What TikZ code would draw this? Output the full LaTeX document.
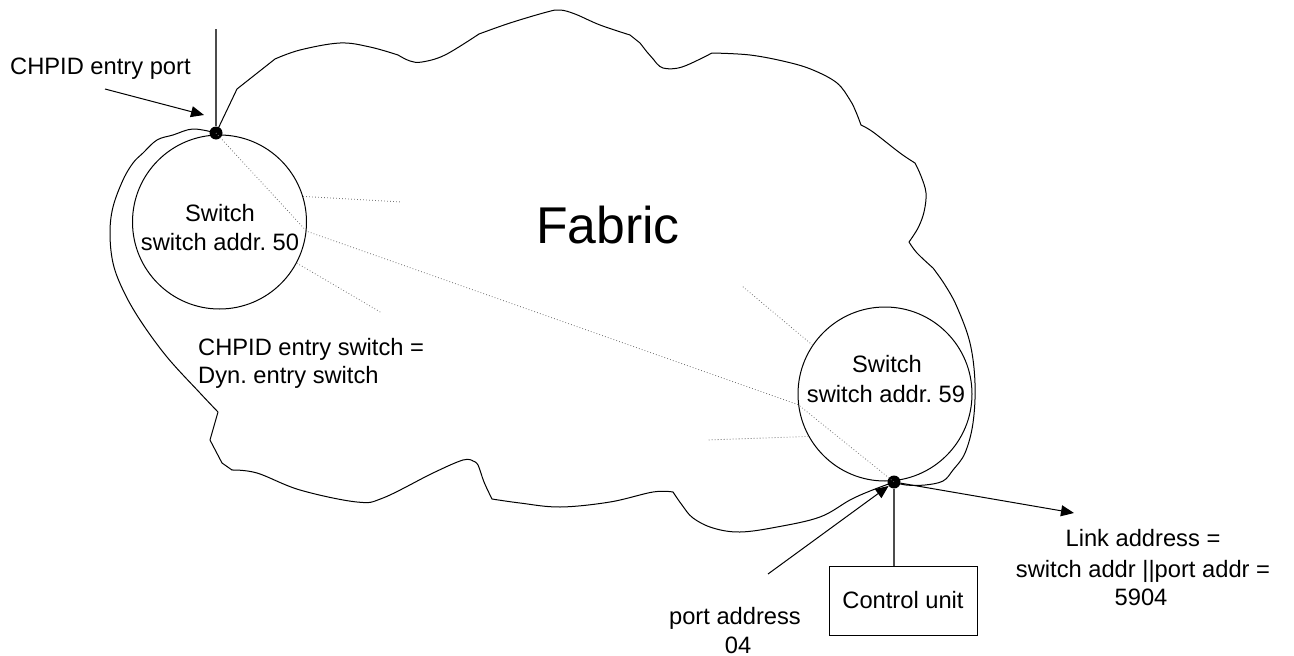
\documentclass[tikz,border=0pt]{standalone}
\usepackage{fontspec}
\setmainfont{Liberation Sans}
\usetikzlibrary{arrows.meta}
\frenchspacing
\begin{document}
\begin{tikzpicture}[x=1pt,y=-1pt,
  lbl/.style={inner sep=0pt, font=\frenchspacing\fontsize{23.7}{29.5}\selectfont},
  edge/.style={line width=1pt},
  dots/.style={line width=0.8pt, black!55, dash pattern=on 0.8pt off 2.2pt},
  port/.style={circle, fill=black, inner sep=0pt, minimum size=13pt},
  switchc/.style={circle, draw, line width=1pt, minimum size=174pt, inner sep=0pt},
  arr/.style={line width=1pt, -{Triangle[length=13pt,width=11pt]}},
  feed/.style={line width=1.4pt, black!70}
]
\useasboundingbox (0,0) rectangle (1294,656);

% Fabric cloud
\draw[edge, line join=round]
 (216,133) -- (237,89) -- (275,59)
 -- plot[smooth, tension=0.6] coordinates {(275,59) (300,50) (340,43) (370,47) (398,55)}
 -- plot[smooth, tension=0.6] coordinates {(398,55) (410,61) (422,62) (445,55) (479,34)}
 -- plot[smooth, tension=0.6] coordinates {(479,34) (510,23) (547,12) (560,10) (575,14) (600,25) (630,35)}
 -- (640,43) -- (647,52) -- (654,60)
 -- plot[smooth, tension=0.6] coordinates {(654,60) (663,68) (682,67) (712,53)}
 -- plot[smooth, tension=0.6] coordinates {(712,53) (750,55) (787,62) (813,70) (837,83) (850,100) (856,112) (861,125)}
 -- plot[smooth, tension=0.6] coordinates {(861,125) (873,132) (900,153) (915,163)}
 -- plot[smooth, tension=0.6] coordinates {(915,163) (921,176) (926,193) (924,212) (918,228) (909,242)}
 -- plot[smooth, tension=0.6] coordinates {(909,242) (917,253) (933,268)}
 -- plot[smooth, tension=0.6] coordinates {(933,268) (945,285) (957,307) (970,343) (975,383) (973,423) (965,453) (953,470) (943,481) (925,485) (906,485) (894,482)}
 -- plot[smooth, tension=0.6] coordinates {(894,482) (870,491) (850,500) (820,517) (777,527) (740,532) (713,528) (693,518) (682,505) (673,492)}
 -- plot[smooth, tension=0.6] coordinates {(673,492) (653,492) (610,502) (560,507) (520,503) (492,499)}
 -- plot[smooth, tension=0.6] coordinates {(492,499) (484,482) (478,465) (473,461)}
 -- plot[smooth, tension=0.6] coordinates {(473,461) (463,460) (433,473) (383,498) (357,502) (300,490) (257,473) (232,470)}
 -- (222,463) -- (210,440) -- (218,412)
 -- plot[smooth, tension=0.6] coordinates {(218,412) (200,393) (167,357) (140,320) (123,290) (113,263) (110,233) (113,207) (123,180) (133,163) (143,153) (157,140) (173,135) (193,129) (216,133)};

% switches
\node[switchc] (s50) at (219.5,222) {};
\node[switchc] (s59) at (885,394) {};

% ports
\node[port] (p50) at (216,133) {};
\node[port] (p59) at (894,482) {};

% dotted paths
\coordinate (d1) at (402,202);
\coordinate (d2) at (382,313);
\coordinate (d3) at (742,286);
\coordinate (d4) at (707,440);
\draw[dots] (p50.center) -- (s50.-6.5) -- (s59.-173.3) -- (p59.center);
\draw[dots] (s50.17.5) -- (d1);
\draw[dots] (s50.-28.7) -- (d2);
\draw[dots] (s59.146.8) -- (d3);
\draw[dots] (s59.209.2) -- (d4);

% channel line
\coordinate (top) at (216,29);
\draw[feed] (top) -- (p50);

% control unit
\node[draw, line width=1pt, minimum width=148pt, minimum height=69pt, inner sep=0pt, lbl] (cu) at (903,600.5) {Control unit};
\draw[feed] (p59) -- (p59 |- cu.north);

% arrows
\coordinate (a1s) at (105,89);
\coordinate (a1e) at (204,115);
\draw[arr] (a1s) -- (a1e);
\coordinate (pas) at (768,574);
\draw[arr] (pas) -- (p59);
\coordinate (lae) at (1074,513);
\draw[arr] (p59) -- (lae);

% labels
\node[lbl, anchor=base west] (t1) at (10,74) {CHPID entry port};
\node[lbl, anchor=base] (t50a) at (220,221) {Switch};
\node[lbl, anchor=base] (t50b) at (220,250) {switch addr. 50};
\node[lbl, anchor=base] (t59a) at (887,372) {Switch};
\node[lbl, anchor=base] (t59b) at (886,402) {switch addr. 59};
\node[inner sep=0pt, font=\fontsize{51.7}{60}\selectfont, anchor=base] (fab) at (608,243) {Fabric};
\node[lbl, anchor=base west] (t2) at (198,355) {CHPID entry switch =};
\node[lbl, anchor=base west] (t3) at (198,383) {Dyn. entry switch};
\node[lbl, anchor=base] (t4) at (735,624) {port address};
\node[lbl, anchor=base] (t5) at (738,653) {04};
\node[lbl, anchor=base] (t6) at (1143,546) {Link address =};
\node[lbl, anchor=base] (t7) at (1143,577) {switch addr ||port addr =};
\node[lbl, anchor=base] (t8) at (1141,605) {5904};
\end{tikzpicture}
\end{document}
